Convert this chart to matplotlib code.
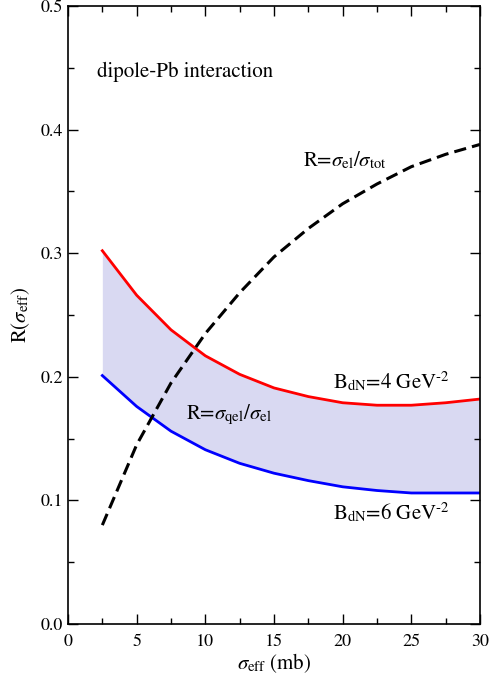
import numpy as np
import matplotlib
matplotlib.use('Agg')
import matplotlib.pyplot as plt
from matplotlib.ticker import MultipleLocator

# values
sigma_eff = [2.5, 5, 7.5, 10, 12.5, 15, 17.5, 20, 22.5, 25, 27.5, 30]
r_qel_b4 = [0.302, 0.266, 0.238, 0.217, 0.202, 0.191, 0.184, 0.179, 0.177, 0.177, 0.179, 0.182]
r_qel_b6 = [0.201, 0.176, 0.156, 0.141, 0.130, 0.122, 0.116, 0.111, 0.108, 0.106, 0.106, 0.106]
r_el_tot = [0.080, 0.145, 0.195, 0.235, 0.268, 0.297, 0.320, 0.340, 0.356, 0.370, 0.380, 0.388]

plt.rcParams['font.family'] = ['STIXGeneral', 'DejaVu Serif']
plt.rcParams['mathtext.fontset'] = 'stix'

fig = plt.figure(figsize=(4.98, 6.8), dpi=100)
ax = fig.add_axes([68/498, 1-624/680, 412/498, 618/680])

ax.fill_between(sigma_eff, r_qel_b6, r_qel_b4, color='#d9d9f2', lw=0)
ax.plot(sigma_eff, r_qel_b4, color='red', lw=2.0)
ax.plot(sigma_eff, r_qel_b6, color='blue', lw=2.0)
ax.plot(sigma_eff, r_el_tot, color='black', lw=2.2, ls=(0, (4, 2)))

ax.set_xlim(0, 30)
ax.set_ylim(0, 0.5)
ax.xaxis.set_major_locator(MultipleLocator(5))
ax.xaxis.set_minor_locator(MultipleLocator(2.5))
ax.yaxis.set_major_locator(MultipleLocator(0.1))
ax.yaxis.set_minor_locator(MultipleLocator(0.05))
ax.tick_params(which='both', direction='in', top=True, right=True, width=1.0, labelsize=13)
ax.tick_params(which='major', length=7)
ax.tick_params(which='minor', length=4)
ax.tick_params(axis='x', pad=7)
for s in ax.spines.values():
    s.set_linewidth(1.2)

ax.set_xlabel(r'$\sigma_{\rm eff}$ (mb)', fontsize=15, labelpad=1)
ax.set_ylabel(r'R($\sigma_{\rm eff}$)', fontsize=15, labelpad=6)

ax.text(2.1, 0.447, 'dipole-Pb interaction', fontsize=15, va='center')
ax.text(17.1, 0.375, r'R=$\sigma_{\rm el}/\sigma_{\rm tot}$', fontsize=15, va='center')
ax.text(19.3, 0.196, 'B$_{\\rm dN}$=4 GeV$^{\u2010\\rm 2}$', fontsize=15, va='center')
ax.text(19.3, 0.090, 'B$_{\\rm dN}$=6 GeV$^{\u2010\\rm 2}$', fontsize=15, va='center')
ax.text(8.6, 0.169, r'R=$\sigma_{\rm qel}/\sigma_{\rm el}$', fontsize=15, va='center')

fig.savefig('out.png', dpi=100)
